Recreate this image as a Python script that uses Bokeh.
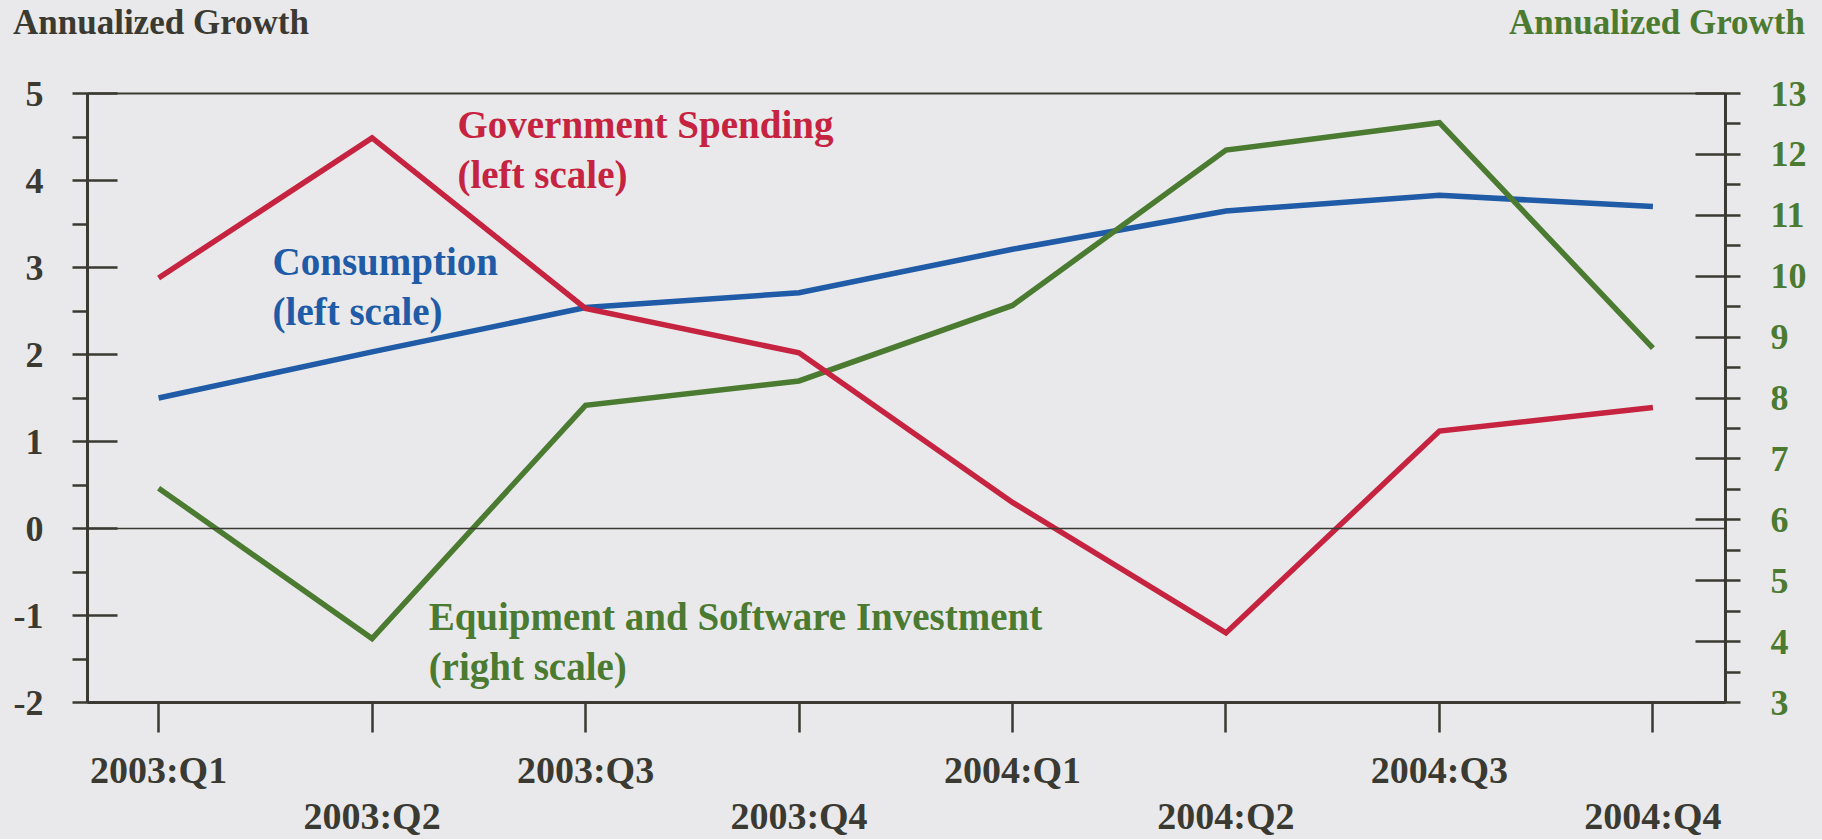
from bokeh.plotting import figure
from bokeh.layouts import column
from bokeh.models import Range1d, LinearAxis, SingleIntervalTicker, FixedTicker, Span, Label, Div
from bokeh.embed import file_html
from bokeh.resources import INLINE

# ---- data ----
quarters = ["2003:Q1", "2003:Q2", "2003:Q3", "2003:Q4",
            "2004:Q1", "2004:Q2", "2004:Q3", "2004:Q4"]
government = [2.88, 4.49, 2.53, 2.02, 0.30, -1.20, 1.12, 1.39]   # left scale
consumption = [1.50, 2.03, 2.54, 2.71, 3.21, 3.65, 3.83, 3.70]   # left scale
equipment = [6.52, 4.05, 7.88, 8.28, 9.52, 12.07, 12.52, 8.82]   # right scale
left_limits = (-2, 5)
right_limits = (3, 13)
left_title = "Annualized Growth"
right_title = "Annualized Growth"
x = list(range(1, len(quarters) + 1))

# ---- styles ----
BG = "#E9E9EB"
AX = "#3A3A32"
RED = "#C5233F"
BLUE = "#1F5BA6"
GREEN = "#4B7A31"
FONT = "Liberation Serif"

W = 1822
HEADER_H = 45
FIG_H = 794

p = figure(width=W, height=FIG_H,
           x_range=Range1d(0.667, 8.34),
           y_range=Range1d(*left_limits),
           output_backend="svg", toolbar_location=None,
           min_border_left=87, min_border_right=97,
           min_border_top=93 - HEADER_H, min_border_bottom=FIG_H - (702 - HEADER_H),
           background_fill_color=BG, border_fill_color=BG,
           outline_line_color=AX, outline_line_width=2, margin=0)
p.title.visible = False
p.grid.visible = False
p.extra_y_ranges = {"right": Range1d(*right_limits)}


def style_y(ax, color):
    ax.ticker = SingleIntervalTicker(interval=1, num_minor_ticks=2)
    ax.axis_line_color = AX
    ax.axis_line_width = 3
    ax.major_tick_line_color = AX
    ax.major_tick_line_width = 2.5
    ax.minor_tick_line_color = AX
    ax.minor_tick_line_width = 2.5
    ax.major_tick_in = 30
    ax.major_tick_out = 0
    ax.minor_tick_in = 0
    ax.minor_tick_out = 15
    ax.major_label_text_font = FONT
    ax.major_label_text_font_style = "bold"
    ax.major_label_text_font_size = "36px"
    ax.major_label_text_color = color


ly = p.yaxis[0]
style_y(ly, AX)
ly.major_label_standoff = 29
ly.major_label_overrides = {v: str(v) for v in range(left_limits[0], left_limits[1] + 1)}

ry = LinearAxis(y_range_name="right")
style_y(ry, GREEN)
ry.major_label_standoff = 30
p.add_layout(ry, "right")

# bottom axis: first row of labels (odd quarters)
bx = p.xaxis[0]
bx.ticker = FixedTicker(ticks=x)
bx.axis_line_color = AX
bx.axis_line_width = 3
bx.major_tick_line_color = AX
bx.major_tick_line_width = 2.5
bx.minor_tick_line_color = None
bx.major_tick_in = 0
bx.major_tick_out = 30
bx.major_label_standoff = 16
bx.major_label_text_font = FONT
bx.major_label_text_font_style = "bold"
bx.major_label_text_font_size = "38px"
bx.major_label_text_color = AX
bx.major_label_overrides = {xi: (q if i % 2 == 0 else "") for i, (xi, q) in enumerate(zip(x, quarters))}

# second row of labels (even quarters)
bx2 = LinearAxis(ticker=FixedTicker(ticks=x))
bx2.axis_line_color = None
bx2.major_tick_line_color = None
bx2.minor_tick_line_color = None
bx2.major_tick_in = 0
bx2.major_tick_out = 0
bx2.major_label_standoff = 1
bx2.major_label_text_font = FONT
bx2.major_label_text_font_style = "bold"
bx2.major_label_text_font_size = "38px"
bx2.major_label_text_color = AX
bx2.major_label_overrides = {xi: (q if i % 2 == 1 else "") for i, (xi, q) in enumerate(zip(x, quarters))}
p.add_layout(bx2, "below")

# zero line
p.add_layout(Span(location=0, dimension="width", line_color=AX, line_width=1.5))

# series
p.line(x, consumption, line_color=BLUE, line_width=5.5, line_join="miter")
p.line(x, equipment, y_range_name="right", line_color=GREEN, line_width=5.5, line_join="miter")
p.line(x, government, line_color=RED, line_width=5.5, line_join="miter")


def lab(xv, yv, txt, color, size="39px", align="left"):
    p.add_layout(Label(x=xv, y=yv, text=txt, text_color=color,
                       text_font=FONT, text_font_style="bold",
                       text_font_size=size, text_align=align,
                       text_baseline="middle"))


lab(2.40, 4.644, "Government Spending", RED)
lab(2.40, 4.070, "(left scale)", RED)
lab(1.534, 3.073, "Consumption", BLUE)
lab(1.534, 2.498, "(left scale)", BLUE)
lab(2.265, -1.013, "Equipment and Software Investment", GREEN)
lab(2.265, -1.587, "(right scale)", GREEN)

# ---- header with the two axis titles ----
header_html = (
    f'<div style="display:flex;justify-content:space-between;align-items:flex-start;'
    f"font-family:'{FONT}';font-weight:bold;font-size:35px;line-height:1;"
    f'width:{W}px;box-sizing:border-box;padding:5px 17px 0 13px;background:{BG};height:{HEADER_H}px;">'
    f'<span style="color:{AX}">{left_title}</span>'
    f'<span style="color:{GREEN}">{right_title}</span></div>'
)
header = Div(text=header_html, width=W, height=HEADER_H, margin=0,
             styles={"background-color": BG})

layout = column(header, p, spacing=0, margin=0, styles={"background-color": BG})

open("out.html", "w").write(file_html(layout, INLINE))
